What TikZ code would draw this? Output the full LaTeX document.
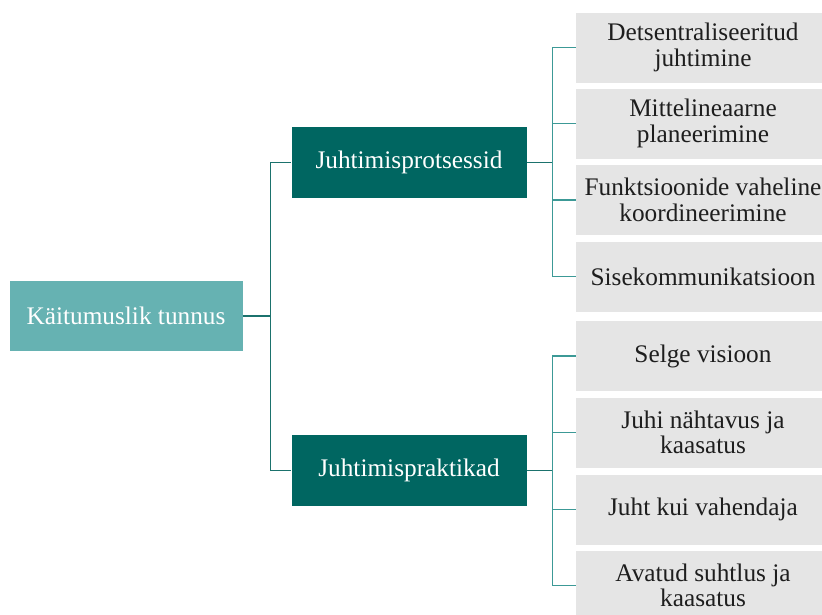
\documentclass[tikz,border=0pt]{standalone}
\usepackage{fontspec}
\setmainfont{Liberation Serif}
\definecolor{rootfill}{HTML}{66B2B2}
\definecolor{midfill}{HTML}{006661}
\definecolor{leaffill}{HTML}{E5E5E5}
\definecolor{midline}{HTML}{1B726D}
\definecolor{leafline}{HTML}{3C9996}
\definecolor{leaftext}{HTML}{1E1E1E}
\tikzset{
  boxbase/.style={inner sep=0pt, align=center, font=\fontsize{25.3}{25.5}\selectfont},
  rootbox/.style={boxbase, fill=rootfill, text=white, minimum width=233pt, minimum height=70pt},
  midbox/.style={boxbase, fill=midfill, text=white, minimum width=235pt, minimum height=71pt},
  leafbox/.style={boxbase, fill=leaffill, text=leaftext, minimum width=254pt, minimum height=70pt},
  tolevel/.style={draw=midline, line width=1.4pt},
  toleaf/.style={draw=leafline, line width=1.3pt}
}
\begin{document}
\begin{tikzpicture}[x=1pt, y=-1pt]
\useasboundingbox (0,0) rectangle (822,614);
\clip (0,0) rectangle (822,614);

% root and the two branches
\node[rootbox] (root) at (126,316) {Käitumuslik tunnus};
\node[midbox] (p1) at (409,162.5) {Juhtimisprotsessid};
\node[midbox] (p2) at (409,470.5) {Juhtimispraktikad};

% leaves of the first branch
\node[leafbox] (a1) at (703,47.5) {Detsentraliseeritud\\juhtimine};
\node[leafbox] (a2) at (703,123.5) {Mittelineaarne\\planeerimine};
\node[leafbox] (a3) at (703,200) {Funktsioonide vaheline\\koordineerimine};
\node[leafbox] (a4) at (703,276.5) {Sisekommunikatsioon};

% leaves of the second branch
\node[leafbox] (b1) at (703,356) {Selge visioon};
\node[leafbox] (b2) at (703,432.5) {Juhi nähtavus ja\\kaasatus};
\node[leafbox] (b3) at (703,509.5) {Juht kui vahendaja};
\node[leafbox] (b4) at (703,585.5) {Avatud suhtlus ja\\kaasatus};

% connectors root -> branches
\draw[tolevel] (root.east) -- ++(28,0) coordinate (rj) |- (p1.west);
\draw[tolevel] (rj) |- (p2.west);

% connectors branches -> leaves
\draw[tolevel] (p1.east) -- ++(26,0) coordinate (pj1);
\foreach \l in {a1,a2,a3,a4} \draw[toleaf] (pj1) |- (\l.west);
\draw[tolevel] (p2.east) -- ++(26,0) coordinate (pj2);
\foreach \l in {b1,b2,b3,b4} \draw[toleaf] (pj2) |- (\l.west);
\end{tikzpicture}
\end{document}
